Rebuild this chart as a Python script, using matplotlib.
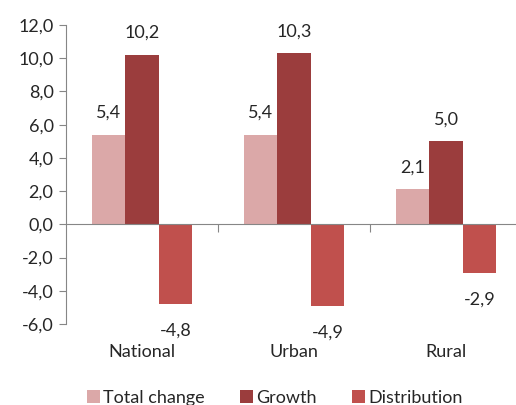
import matplotlib
matplotlib.use("Agg")
import matplotlib.pyplot as plt
import numpy as np
from matplotlib.transforms import blended_transform_factory

categories = ["National", "Urban", "Rural"]
series_names = ["Total change", "Growth", "Distribution"]
total_change = [5.4, 5.4, 2.1]
growth = [10.2, 10.3, 5.0]
distribution = [-4.8, -4.9, -2.9]
yticks = [-6, -4, -2, 0, 2, 4, 6, 8, 10, 12]

colors = ["#DBA8A8", "#9B3D3D", "#C0504D"]

plt.rcParams['font.family'] = ['Lato', 'DejaVu Sans']
fs = 13
txtcol = "#262626"

fig = plt.figure(figsize=(5.16, 4.05), dpi=100)
ax = fig.add_axes([66/516, 81/405, 456/516, 299/405])

x = np.arange(len(categories))
w = 0.22
series = [total_change, growth, distribution]
for k, (vals, name, c) in enumerate(zip(series, series_names, colors)):
    bars = ax.bar(x + (k - 1) * w, vals, w, color=c, label=name, edgecolor="none")
    for b, v in zip(bars, vals):
        lab = f"{v:.1f}".replace(".", ",")
        if v >= 0:
            ax.annotate(lab, (b.get_x() + b.get_width() / 2, v), xytext=(0, 14),
                        textcoords="offset pixels", ha="center", va="bottom",
                        fontsize=fs, color=txtcol)
        else:
            ax.annotate(lab, (b.get_x() + b.get_width() / 2, v), xytext=(0, -19),
                        textcoords="offset pixels", ha="center", va="top",
                        fontsize=fs, color=txtcol)

ax.set_xlim(-0.5, len(categories) - 0.5)
ax.set_ylim(-6, 12)
ax.set_yticks(yticks)
ax.set_yticklabels([f"{t:.1f}".replace(".", ",") for t in yticks], fontsize=fs, color=txtcol)

for s in ["top", "right"]:
    ax.spines[s].set_visible(False)
ax.spines["left"].set_color("#868686")
ax.spines["bottom"].set_color("#868686")
ax.spines["bottom"].set_position(("data", 0))
ax.tick_params(axis="y", direction="out", length=5, color="#868686", pad=4)
ax.set_xticks(np.arange(len(categories) - 1) + 0.5)
ax.set_xticklabels([])
ax.tick_params(axis="x", direction="out", length=6, color="#868686")

trans = blended_transform_factory(ax.transData, ax.transAxes)
for i, c in enumerate(categories):
    ax.annotate(c, (i, 0), xycoords=trans, xytext=(0, -28), textcoords="offset pixels",
                ha="center", va="center", fontsize=fs, color=txtcol)

leg = fig.legend(loc="center", bbox_to_anchor=(0.533, 0.017), ncol=3, frameon=False,
                 fontsize=fs, handlelength=0.7, handleheight=0.7, handletextpad=0.2,
                 columnspacing=1.95)
for t in leg.get_texts():
    t.set_color(txtcol)

fig.savefig("out.png", dpi=100)
